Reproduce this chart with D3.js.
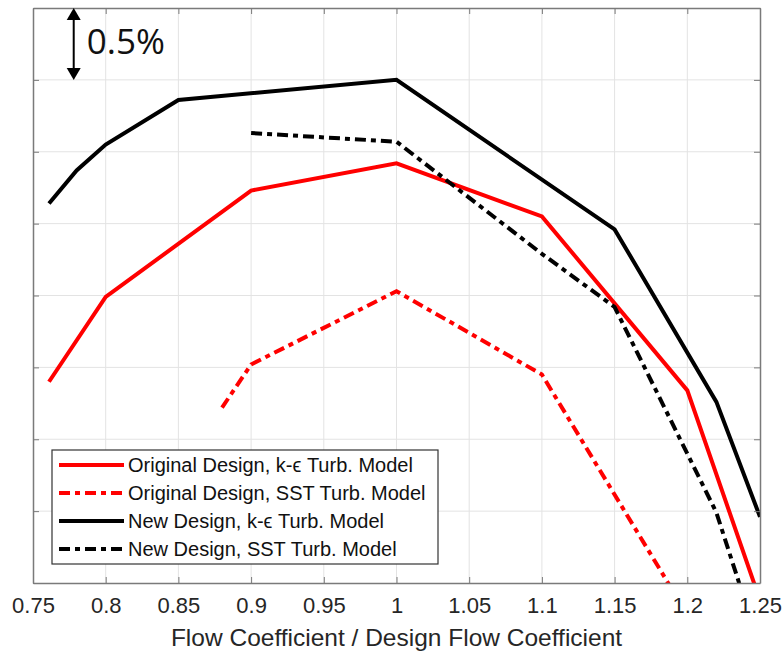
<!DOCTYPE html>
<html>
<head>
    <title>Flow Coefficient vs Efficiency</title>
    <script src="https://cdnjs.cloudflare.com/ajax/libs/d3/7.8.5/d3.min.js"></script>
    <style>
        body {
            margin: 0;
            background: white;
            font-family: Arial, "Liberation Sans", sans-serif;
        }
        .grid line {
            stroke: #e3e3e3;
            stroke-width: 1px;
        }
        .series {
            fill: none;
            stroke-width: 4px;
            stroke-linejoin: miter;
        }
    </style>
</head>
<body>
    <div id="chart"></div>

    <script>
        // Data (y in %, only relative values matter)
        const flowOrigKe = [0.761, 0.80, 0.90, 1.00, 1.10, 1.20, 1.25];
        const effOrigKe = [1.40, 1.99, 2.73, 2.92, 2.55, 1.34, -0.12];

        const flowOrigSst = [0.88, 0.90, 1.00, 1.10, 1.20];
        const effOrigSst = [1.22, 1.52, 2.03, 1.45, -0.22];

        const flowNewKe = [0.761, 0.78, 0.80, 0.85, 1.00, 1.15, 1.22, 1.25];
        const effNewKe = [2.64, 2.87, 3.05, 3.36, 3.50, 2.46, 1.26, 0.46];

        const flowNewSst = [0.90, 1.00, 1.10, 1.15, 1.20, 1.22, 1.25];
        const effNewSst = [3.13, 3.07, 2.29, 1.92, 0.90, 0.49, -0.45];

        const seriesNames = [
            "Original Design, k-\u03F5 Turb. Model",
            "Original Design, SST Turb. Model",
            "New Design, k-\u03F5 Turb. Model",
            "New Design, SST Turb. Model"
        ];

        const xTicks = [0.75, 0.8, 0.85, 0.9, 0.95, 1, 1.05, 1.1, 1.15, 1.2, 1.25];
        const yTicks = [0, 0.5, 1, 1.5, 2, 2.5, 3, 3.5, 4];

        const width = 782;
        const height = 653;
        const margin = { top: 8, right: 22, bottom: 70, left: 33 };
        const innerW = width - margin.left - margin.right;
        const innerH = height - margin.top - margin.bottom;

        const svg = d3.select("#chart")
            .append("svg")
            .attr("width", width)
            .attr("height", height);

        const g = svg.append("g")
            .attr("transform", `translate(${margin.left},${margin.top})`);

        const x = d3.scaleLinear().domain([0.75, 1.25]).range([0, innerW]);
        const y = d3.scaleLinear().domain([0, 4]).range([innerH, 0]);

        // Grid
        g.append("g").attr("class", "grid")
            .selectAll("line")
            .data(xTicks.slice(1, -1))
            .enter().append("line")
            .attr("x1", d => x(d)).attr("x2", d => x(d))
            .attr("y1", 0).attr("y2", innerH);

        g.append("g").attr("class", "grid")
            .selectAll("line")
            .data(yTicks.slice(1, -1))
            .enter().append("line")
            .attr("x1", 0).attr("x2", innerW)
            .attr("y1", d => y(d)).attr("y2", d => y(d));

        // Clip so lines that leave the bottom get cut at the axis
        svg.append("defs").append("clipPath").attr("id", "clip")
            .append("rect")
            .attr("x", 0).attr("y", 0)
            .attr("width", innerW).attr("height", innerH);

        const line = d3.line()
            .x(d => x(d[0]))
            .y(d => y(d[1]));

        const series = [
            { xs: flowOrigKe, ys: effOrigKe, color: "#ff0000", dash: null },
            { xs: flowOrigSst, ys: effOrigSst, color: "#ff0000", dash: "11,5,5,5" },
            { xs: flowNewKe, ys: effNewKe, color: "#000000", dash: null },
            { xs: flowNewSst, ys: effNewSst, color: "#000000", dash: "11,5,5,5" }
        ];

        const plot = g.append("g").attr("clip-path", "url(#clip)");
        plot.selectAll("path")
            .data(series)
            .enter().append("path")
            .attr("class", "series")
            .attr("d", s => line(d3.zip(s.xs, s.ys)))
            .attr("stroke", s => s.color)
            .attr("stroke-dasharray", s => s.dash);

        // Axes (MATLAB-like box, ticks inside)
        const axisColor = "#7a7a7a";
        const xBottom = g.append("g")
            .attr("transform", `translate(0,${innerH})`)
            .call(d3.axisBottom(x).tickValues(xTicks).tickSizeInner(-6).tickSizeOuter(0).tickPadding(14)
                .tickFormat(d3.format("")));
        const xTop = g.append("g")
            .call(d3.axisTop(x).tickValues(xTicks).tickSizeInner(-6).tickSizeOuter(0).tickFormat(""));
        const yLeft = g.append("g")
            .call(d3.axisLeft(y).tickValues(yTicks).tickSizeInner(-6).tickSizeOuter(0).tickFormat(""));
        const yRight = g.append("g")
            .attr("transform", `translate(${innerW},0)`)
            .call(d3.axisRight(y).tickValues(yTicks).tickSizeInner(-6).tickSizeOuter(0).tickFormat(""));

        [xBottom, xTop, yLeft, yRight].forEach(a => {
            a.select(".domain").attr("stroke", axisColor).attr("stroke-width", 1.5);
            a.selectAll(".tick line").attr("stroke", axisColor);
        });
        xBottom.selectAll(".tick text")
            .attr("fill", "#262626")
            .style("font-family", "Arial, 'Liberation Sans', sans-serif")
            .style("font-size", "22px");

        // Axis title
        svg.append("text")
            .attr("x", margin.left + innerW / 2)
            .attr("y", 646)
            .attr("text-anchor", "middle")
            .attr("fill", "#262626")
            .style("font-size", "24.5px")
            .text("Flow Coefficient / Design Flow Coefficient");

        // 0.5% scale marker
        const ax = x(0.778);
        const a = g.append("g");
        a.append("line")
            .attr("x1", ax).attr("x2", ax)
            .attr("y1", y(4) + 8).attr("y2", y(3.5) - 8)
            .attr("stroke", "#000").attr("stroke-width", 2);
        a.append("path")
            .attr("d", `M${ax},${y(4)} L${ax - 7},${y(4) + 12} L${ax + 7},${y(4) + 12} Z`)
            .attr("fill", "#000");
        a.append("path")
            .attr("d", `M${ax},${y(3.5)} L${ax - 7},${y(3.5) - 12} L${ax + 7},${y(3.5) - 12} Z`)
            .attr("fill", "#000");
        a.append("text")
            .attr("x", ax + 13)
            .attr("y", 46)
            .attr("fill", "#111")
            .style("font-family", "'Open Sans', sans-serif")
            .style("font-size", "35px")
            .text("0.5%");

        // Legend
        const legend = svg.append("g").attr("transform", "translate(52,450)");
        legend.append("rect")
            .attr("width", 386).attr("height", 114)
            .attr("fill", "white")
            .attr("stroke", "#333").attr("stroke-width", 1.2);
        const rows = legend.selectAll("g.row")
            .data(series)
            .enter().append("g")
            .attr("class", "row")
            .attr("transform", (d, i) => `translate(0,${15 + i * 28})`);
        rows.append("line")
            .attr("x1", 7).attr("x2", 72)
            .attr("stroke", d => d.color)
            .attr("stroke-width", 4)
            .attr("stroke-dasharray", d => d.dash);
        rows.append("text")
            .attr("x", 76)
            .attr("y", 7)
            .attr("fill", "#111")
            .style("font-size", "20px")
            .text((d, i) => seriesNames[i]);
    </script>
</body>
</html>
